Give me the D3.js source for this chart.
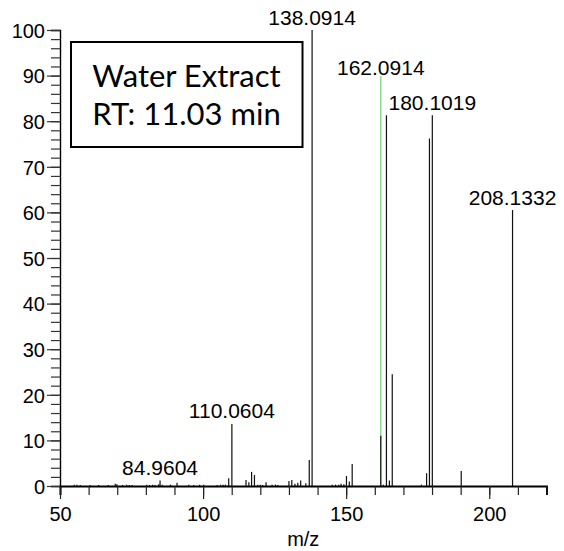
<!DOCTYPE html>
<html>
<head>
<meta charset="utf-8">
<script src="https://cdn.jsdelivr.net/npm/d3@7"></script>
<style>
  html, body { margin: 0; padding: 0; background: #fff; }
  svg { display: block; }
  text { font-family: "Liberation Sans", Arial, sans-serif; fill: #000; }
</style>
</head>
<body>
<svg id="chart" width="564" height="551"></svg>
<script>
// MS/MS spectrum: centroid peaks as [m/z, relative abundance %]
const peaks = [
  [55.0, 0.3], [55.9, 0.3], [57.1, 0.2], [60.5, 0.2], [63.5, 0.2], [66.9, 0.2],
  [69.3, 0.5], [69.9, 0.4], [71.9, 0.2], [73.3, 0.3], [74.2, 0.2], [75.2, 0.2],
  [80.3, 0.3], [81.3, 0.2], [82.4, 0.3], [83.2, 0.2], [84.5, 0.4], [84.9604, 1.2],
  [85.7, 0.3], [88.6, 0.3], [90.9, 0.7], [95.0, 0.3], [96.7, 0.2], [98.8, 0.3],
  [100.2, 0.3], [104.9, 0.2], [106.1, 0.3], [107.0, 0.3], [107.8, 0.3], [108.95, 1.7],
  [110.0604, 13.6], [115.0, 1.3], [116.0, 0.8], [116.95, 3.1], [117.95, 2.4],
  [119.1, 0.3], [120.0, 0.3], [120.8, 0.2], [122.0, 0.8], [124.1, 0.3], [125.3, 0.3],
  [126.1, 0.2], [130.0, 1.1], [131.0, 1.3], [132.1, 0.5], [133.1, 0.7], [134.1, 1.2],
  [135.9, 0.6], [137.1, 5.7], [138.0914, 100], [145.1, 0.3], [146.3, 0.3], [147.4, 0.3],
  [148.2, 0.5], [149.2, 0.4], [150.1, 2.2], [151.1, 1.0], [152.1, 4.8],
  [162.0914, 11.0], [163.0, 0.3], [164.07, 81.3], [165.1, 1.2], [166.1, 24.5],
  [176.3, 0.3], [178.1, 2.8], [179.1, 76.2], [180.1019, 81.3], [190.2, 3.3],
  [208.1332, 60.5]
];

// highlighted precursor-related ion
const highlightPeaks = [[162.0914, 89.9]];

// annotated peaks: [m/z, abundance, label]
const peakLabels = [
  [84.9604, 1.2, "84.9604"],
  [110.0604, 13.6, "110.0604"],
  [138.0914, 100, "138.0914"],
  [162.0914, 89.9, "162.0914"],
  [180.1019, 81.3, "180.1019"],
  [208.1332, 60.5, "208.1332"]
];

const xMajorTicks = [50, 100, 150, 200];
const yMajorTicks = [0, 10, 20, 30, 40, 50, 60, 70, 80, 90, 100];
const xDomain = [50, 220];
const yDomain = [0, 100];
const infoLines = ["Water Extract", "RT: 11.03 min"];
const xTitle = "m/z";

const svg = d3.select("#chart");
const x = d3.scaleLinear().domain(xDomain).range([60, 546.5]);
const y = d3.scaleLinear().domain(yDomain).range([486, 30]);

// peak sticks
const g = svg.append("g");
g.selectAll("line.hl").data(highlightPeaks).join("line")
  .attr("class", "hl")
  .attr("x1", d => x(d[0])).attr("x2", d => x(d[0]))
  .attr("y1", y(0)).attr("y2", d => y(d[1]))
  .attr("stroke", "#7fd67f").attr("stroke-width", 1.3);
g.selectAll("line.pk").data(peaks).join("line")
  .attr("class", "pk")
  .attr("x1", d => x(d[0])).attr("x2", d => x(d[0]))
  .attr("y1", y(0)).attr("y2", d => y(d[1]))
  .attr("stroke", "#111").attr("stroke-width", 1.2);

// x axis with minor ticks every 10
const xMinor = d3.range(xDomain[0], xDomain[1] + 0.1, 10);
const xAxis = svg.append("g").attr("transform", `translate(0,${y(0)})`);
xAxis.call(d3.axisBottom(x).tickValues(xMinor).tickSize(9).tickFormat(""));
xAxis.append("g").call(d3.axisBottom(x).tickValues(xMajorTicks).tickSize(13).tickFormat(d3.format("d")));
xAxis.selectAll(".domain").attr("stroke", "#000").attr("stroke-width", 2);
xAxis.selectAll(".tick line").attr("stroke", "#222").attr("stroke-width", 1.2);
xAxis.selectAll(".tick text").attr("font-size", 20).attr("y", 21).attr("dy", "0.71em")
  .attr("font-family", "Liberation Sans, Arial, sans-serif").attr("fill", "#000");
xAxis.selectAll("g > g > .domain").remove();

// y axis with minor ticks every 2
const yMinor = d3.range(yDomain[0], yDomain[1] + 0.1, 2);
const yAxis = svg.append("g").attr("transform", `translate(${x(xDomain[0])},0)`);
yAxis.call(d3.axisLeft(y).tickValues(yMinor).tickSize(9).tickFormat(""));
yAxis.append("g").call(d3.axisLeft(y).tickValues(yMajorTicks).tickSize(13).tickFormat(d3.format("d")));
yAxis.selectAll(".domain").attr("stroke", "#000").attr("stroke-width", 1.4);
yAxis.selectAll(".tick line").attr("stroke", "#333").attr("stroke-width", 1.2);
yAxis.selectAll(".tick text").attr("font-size", 20).attr("x", -15).attr("dy", "0.36em")
  .attr("font-family", "Liberation Sans, Arial, sans-serif").attr("fill", "#000");
yAxis.selectAll("g > g > .domain").remove();

// axis title
svg.append("text").attr("x", (x.range()[0] + x.range()[1]) / 2).attr("y", 546)
  .attr("text-anchor", "middle").attr("font-size", 20).text(xTitle);

// peak annotations
svg.append("g").selectAll("text").data(peakLabels).join("text")
  .attr("x", d => x(d[0]))
  .attr("y", d => y(d[1]) - (d[2] === "162.0914" ? 1 : 5.5))
  .attr("text-anchor", "middle").attr("font-size", 21)
  .text(d => d[2]);

// sample info box
const box = svg.append("g");
box.append("rect").attr("x", 71).attr("y", 42).attr("width", 231.5).attr("height", 105)
  .attr("fill", "#fff").attr("stroke", "#000").attr("stroke-width", 2);
box.selectAll("text").data(infoLines).join("text")
  .attr("x", 186.5).attr("y", (d, i) => 86.5 + i * 38.5)
  .attr("text-anchor", "middle")
  .style("font-family", "Lato, 'Open Sans', sans-serif").attr("font-size", 31)
  .text(d => d);
</script>
</body>
</html>
